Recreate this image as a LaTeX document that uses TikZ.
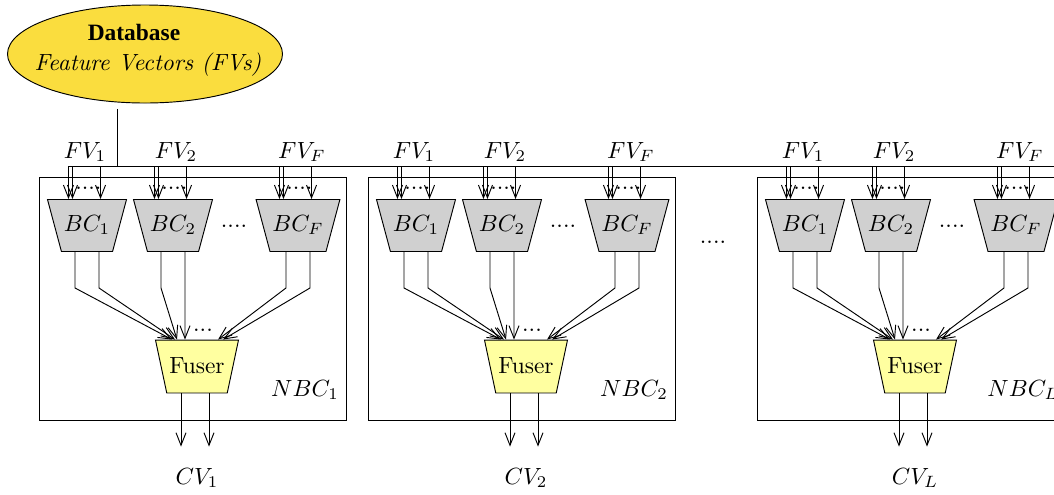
\documentclass[tikz,border=0pt]{standalone}
\usepackage{fontspec}
\usepackage{amsmath}
\usepackage{tikz}
\usetikzlibrary{shapes.geometric}
\usetikzlibrary{arrows.meta}
\newfontfamily\dbfont{Liberation Serif}
\definecolor{dbyellow}{RGB}{250,221,62}
\definecolor{fuseryellow}{RGB}{255,255,160}
\definecolor{bcgray}{RGB}{208,208,208}
\tikzset{
  arr/.style={-{Straight Barb[length=1.9mm,width=1.5mm]}},
  bcbox/.style={trapezium, trapezium angle=75, trapezium stretches body,
    shape border rotate=180, draw, fill=bcgray, text depth=0.6mm, text height=2.3mm,
    minimum width=11.85mm, inner xsep=1pt, inner ysep=2.45mm},
  fuserbox/.style={trapezium, trapezium angle=78, trapezium stretches body,
    shape border rotate=180, draw, fill=fuseryellow, text depth=0.2mm, text height=2.4mm,
    minimum width=12.45mm, inner xsep=1pt, inner ysep=2.67mm},
}

\begin{document}
\begin{tikzpicture}[x=0.15mm, y=-0.15mm]
            \useasboundingbox (0,0) rectangle (1054,494);
            \clip (0,0) rectangle (1054,494);
            % Database
            \node[ellipse, draw, fill=dbyellow, minimum width=41.25mm, minimum height=14.7mm] (db) at (145,54) {};
            \node (dbtitle) at (134,32) {\dbfont\bfseries Database};
            \node (dbsub) at (148,65) {\textit{Feature Vectors (FVs)}};
            % Bus
            \coordinate (busL) at (68,166);
            \coordinate (busR) at (1054,166);
            \draw ([xshift=-4.2mm,yshift=-0.8mm]db.south) -- ([xshift=-4.2mm]db.south |- busL);
            \draw (busL) -- (busR);
            \node at (713,242) {....};
            % One NBC per block
            \foreach \ox/\s/\b in {0/1/a, 329/2/b, 718/L/c} {
                \node[draw, minimum width=46.05mm, minimum height=36.45mm] (nbc\b) at (\ox+192.5,298.5) {};
                \node[bcbox] (bc\b1) at (\ox+87,225.5) {$BC_1$};
                \node[bcbox] (bc\b2) at (\ox+173,225.5) {$BC_2$};
                \node[bcbox] (bc\b3) at (\ox+298,225.5) {$BC_F$};
                \node at (\ox+234,226) {....};
                \node[fuserbox] (fus\b) at (\ox+197,366.5) {Fuser};
                \node at (\ox+203,330) {...};
                \node (nbc\b lab) at (\ox+305,390) {$NBC_\s$};
                \node (cv\b) at (\ox+197,478) {$CV_\s$};
                % inputs and outputs of each BC
                \foreach \i/\t/\dx/\ea/\eb in {1/1/-2/-3.75mm/-3.3mm, 2/2/3/-3mm/-1.8mm, 3/F/4/3.15mm/3.9mm} {
                    \path (bc\b\i.north) ++(\dx,-47) node (fv\b\i) {$FV_\t$};
                    \draw[arr] ([xshift=-2.78mm]bc\b\i.north |- busL) -- ([xshift=-2.78mm]bc\b\i.north);
                    \draw[arr] ([xshift=-2.18mm]bc\b\i.north |- busL) -- ([xshift=-2.18mm]bc\b\i.north);
                    \draw[arr] ([xshift=2.03mm]bc\b\i.north |- busL) -- ([xshift=2.03mm]bc\b\i.north);
                    \node at ([xshift=0.2mm,yshift=1.6mm]bc\b\i.north) {....};
                    \draw[arr] ([xshift=-1.8mm]bc\b\i.south) -- ++(0,36) -- ([xshift=\ea]fus\b.north);
                    \draw[arr] ([xshift=1.8mm]bc\b\i.south) -- ++(0,36) -- ([xshift=\eb]fus\b.north);
                }
                % Fuser outputs
                \draw[arr, shorten >=2mm] ([xshift=-2.4mm]fus\b.south) -- ([xshift=-2.4mm]fus\b.south |- cv\b.north);
                \draw[arr, shorten >=2mm] ([xshift=1.8mm]fus\b.south) -- ([xshift=1.8mm]fus\b.south |- cv\b.north);
            }
        \end{tikzpicture}
\end{document}
